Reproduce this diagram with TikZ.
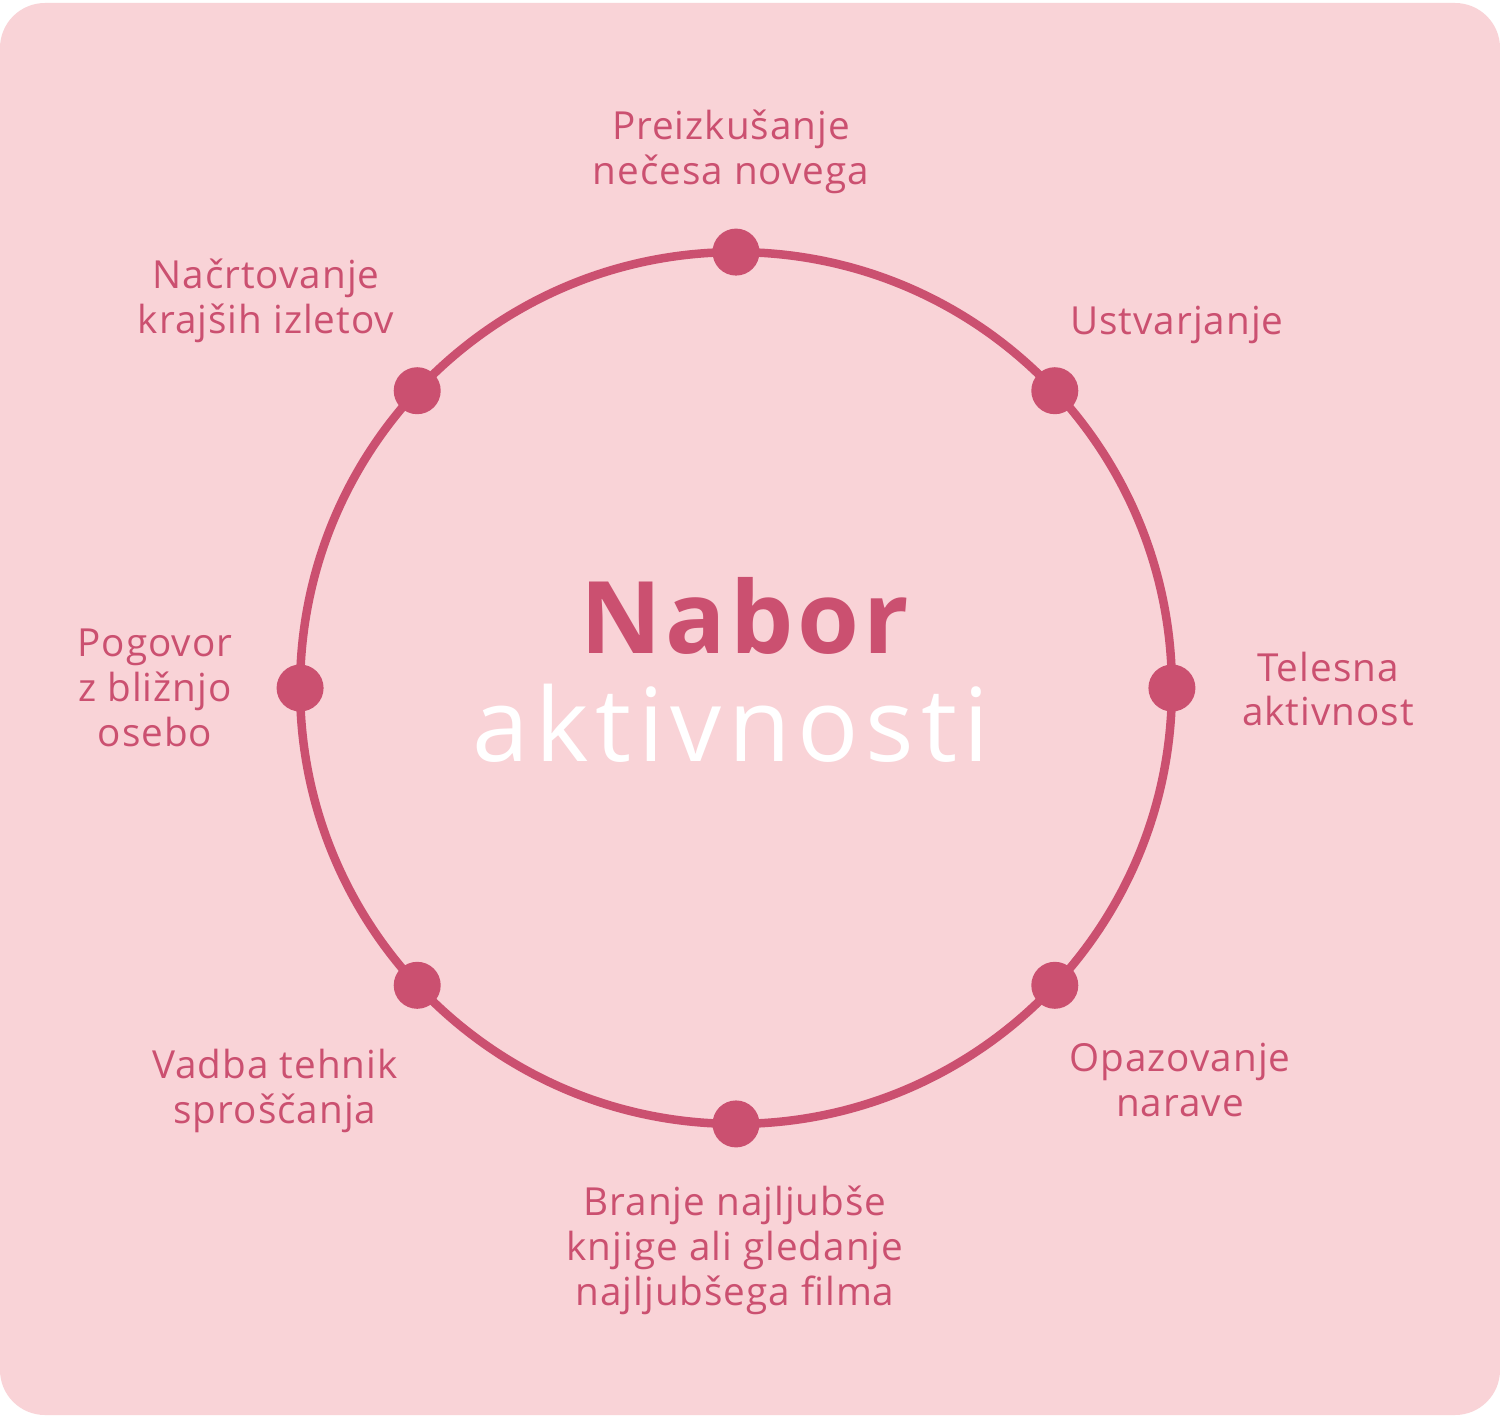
\documentclass[tikz,border=0pt]{standalone}
\usepackage{fontspec}
\setmainfont{Open Sans}[LetterSpace=2.6]
\newfontfamily\titlefont{Open Sans}[LetterSpace=4]
\newfontfamily\widefont{Open Sans}[LetterSpace=6.5]
\usetikzlibrary{positioning}
\definecolor{nbPink}{HTML}{F9D3D7}
\definecolor{nbRose}{HTML}{CB5070}

\begin{document}
\begin{tikzpicture}[x=0.02cm,y=-0.02cm,
  lbl/.style={text=nbRose,font=\fontsize{22}{25.6}\selectfont,align=center,inner sep=0pt},
  dot/.style={circle,fill=nbRose,inner sep=0pt,minimum size=0.94cm},
  ringstyle/.style={circle,draw=nbRose,line width=0.17cm,inner sep=0pt,outer sep=0pt,minimum size=17.44cm}]
\useasboundingbox (0,0) rectangle (1500,1416);
\fill[white] (0,0) rectangle (1500,1416);
\fill[nbPink,rounded corners=0.9cm] (0,3) rectangle (1500,1415);
% ring and its eight dots
\node[ringstyle] (ring) at (736,688) {};
\foreach \a/\n in {90/1,43/2,0/3,-43/4,-90/5,-137/6,180/7,137/8}
  \node[dot] (d\n) at (ring.\a) {};
% centre title
\node[anchor=base,text=nbRose,font=\titlefont\fontsize{57}{60}\selectfont\bfseries] (nabor) at (745,653) {Nabor};
\node[anchor=base,text=white,font=\widefont\fontsize{58}{60}\selectfont] (akt) at (731,761) {aktivnosti};
% labels round the ring
\node[lbl] (p1) at (731,152) {Preizkušanje\\nečesa novega};
\node[lbl] (p2) at (1177,325) {Ustvarjanje};
\node[lbl] (p3) at (1328,689) {Telesna\\aktivnost};
\node[lbl] (p4) at (1180,1080) {Opazovanje\\narave};
\node[lbl] (p5) at (735,1250) {Branje najljubše\\knjige ali gledanje\\najljubšega filma};
\node[lbl] (p6) at (275,1091) {Vadba tehnik\\sproščanja};
\node[lbl] (p7) at (155,688) {Pogovor\\z bližnjo\\osebo};
\node[lbl] (p8) at (266,301) {Načrtovanje\\krajših izletov};
\end{tikzpicture}
\end{document}
